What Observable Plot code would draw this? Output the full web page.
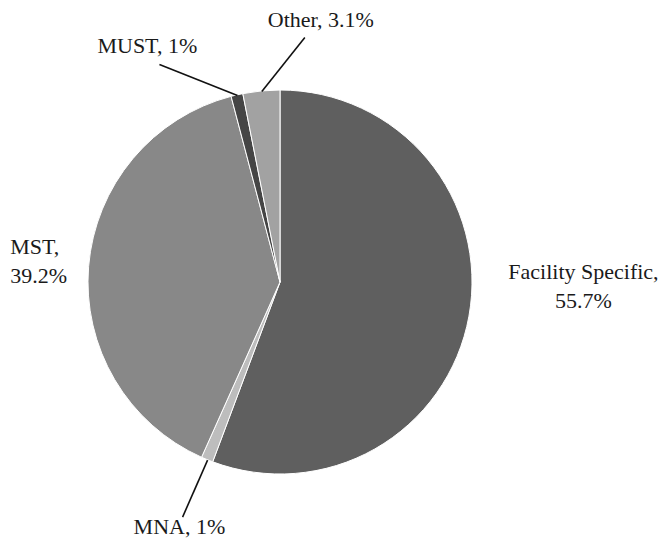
<!DOCTYPE html>
<html><head><meta charset="utf-8">
<script src="https://cdn.jsdelivr.net/npm/d3@7"></script>
<script src="https://cdn.jsdelivr.net/npm/@observablehq/plot@0.6"></script>
<style>html,body{margin:0;padding:0;background:#fff}svg{display:block}</style>
</head><body><div id="chart"></div>
<script>
// ---- data ----
const categories = ["Facility Specific", "MNA", "MST", "MUST", "Other"];
const shares = [55.7, 1, 39.2, 1, 3.1];
const labels = ["Facility Specific,\n55.7%", "MNA, 1%", "MST,\n39.2%", "MUST, 1%", "Other, 3.1%"];

// ---- styles / layout ----
const colors = ["#5f5f5f", "#bdbdbd", "#888888", "#454545", "#a2a2a2"];
const W = 661, H = 538, CX = 280, CY = 282, R = 192;
// leader offset from arc point (null = no leader) and text offset from leader end
const leaderOffset = [null, [-25, 57], null, [-78, -31], [43, -54]];
const textOffset = [[114, -9], [-49, 17], [-79, 16], [-62, -11], [-37, -10]];
const textAnchor = ["middle", "start", "start", "start", "start"];

const pie = d3.pie().sort(null).value(d => d.share)(categories.map((c, i) => ({c, share: shares[i], i})));
const rows = pie.map(p => {
  const i = p.data.i;
  const mid = (p.startAngle + p.endAngle) / 2;
  const ax = CX + R * Math.sin(mid), ay = CY - R * Math.cos(mid);
  const lo = leaderOffset[i];
  const ex = lo ? ax + lo[0] : ax, ey = lo ? ay + lo[1] : ay;
  return {
    p, i, ax, ay, ex, ey, hasLeader: !!lo,
    tx: ex + textOffset[i][0], ty: ey + textOffset[i][1],
    label: labels[i], anchor: textAnchor[i]
  };
});

const pieMark = (index, scales) => {
  const g = d3.create("svg:g").attr("transform", `translate(${scales.x(CX)},${scales.y(CY)})`);
  const arc = d3.arc().innerRadius(0).outerRadius(R);
  g.selectAll("path").data(pie).join("path")
    .attr("d", arc)
    .attr("fill", d => colors[d.data.i])
    .attr("stroke", "#ffffff")
    .attr("stroke-width", 1)
    .attr("stroke-linejoin", "round");
  return g.node();
};

const chart = Plot.plot({
  width: W, height: H,
  margin: 0,
  x: {domain: [0, W], range: [0, W], axis: null},
  y: {domain: [0, H], range: [0, H], axis: null},
  style: {fontFamily: "'Liberation Serif', 'Times New Roman', serif", background: "#fff"},
  marks: [
    pieMark,
    Plot.link(rows.filter(d => d.hasLeader), {x1: "ax", y1: "ay", x2: "ex", y2: "ey", stroke: "#111", strokeWidth: 1.6}),
    ...["start", "middle"].map(a => Plot.text(rows.filter(d => d.anchor === a), {
      x: "tx", y: "ty", text: "label", textAnchor: a, lineAnchor: "bottom", lineHeight: 1.3,
      fontSize: 22, fill: "#1a1a1a"
    }))
  ]
});
document.getElementById("chart").append(chart);
</script>
</body></html>
